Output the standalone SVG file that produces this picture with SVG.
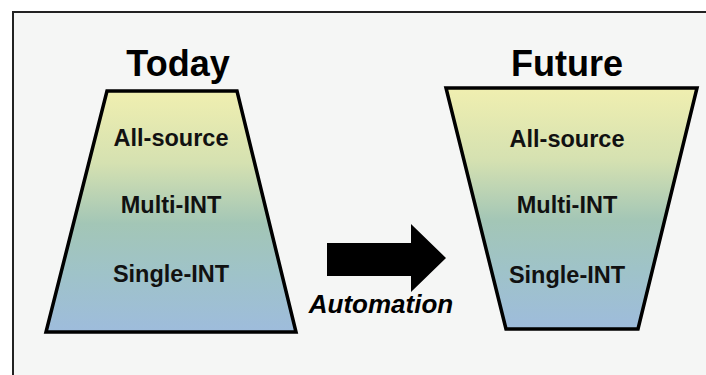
<svg xmlns="http://www.w3.org/2000/svg" width="706" height="375" viewBox="0 0 706 375">
<defs>
<linearGradient id="g1" x1="0" y1="0" x2="0" y2="1">
<stop offset="0" stop-color="#f0efb0"/>
<stop offset="0.3" stop-color="#d5e1b1"/>
<stop offset="0.55" stop-color="#a3c6b6"/>
<stop offset="0.75" stop-color="#9fc3c8"/>
<stop offset="1" stop-color="#9ebcdc"/>
</linearGradient>
<style>
.trap{fill:url(#g1);stroke:#000;stroke-width:3.5;stroke-linejoin:miter}
.title{font-family:"Liberation Sans",Arial,sans-serif;font-weight:bold;font-size:36px;fill:#000;text-anchor:middle}
.lbl{font-family:"Liberation Sans",Arial,sans-serif;font-weight:bold;font-size:23.5px;fill:#111;text-anchor:middle}
.auto{font-family:"Liberation Sans",Arial,sans-serif;font-weight:bold;font-style:italic;font-size:26px;fill:#000;text-anchor:middle}
</style>
</defs>
<rect x="0" y="0" width="706" height="375" fill="#ffffff"/>
<rect x="13" y="12" width="700" height="370" fill="#f5f6f5" stroke="#222" stroke-width="2"/>
<g id="today">
<text class="title" x="178" y="76">Today</text>
<polygon class="trap" points="107,91 237,91 296,332 46,332"/>
<text class="lbl" x="171" y="146">All-source</text>
<text class="lbl" x="171" y="213">Multi-INT</text>
<text class="lbl" x="171" y="282">Single-INT</text>
</g>
<g id="future">
<text class="title" x="567" y="76">Future</text>
<polygon class="trap" points="446,88 697,88 638,329 506,329"/>
<text class="lbl" x="567" y="147">All-source</text>
<text class="lbl" x="567" y="213">Multi-INT</text>
<text class="lbl" x="567" y="283">Single-INT</text>
</g>
<g id="connectors">
<polygon points="327,243 411,243 411,224 446,258 411,292 411,276 327,276" fill="#000"/>
<text class="auto" x="381" y="313">Automation</text>
</g>
</svg>
